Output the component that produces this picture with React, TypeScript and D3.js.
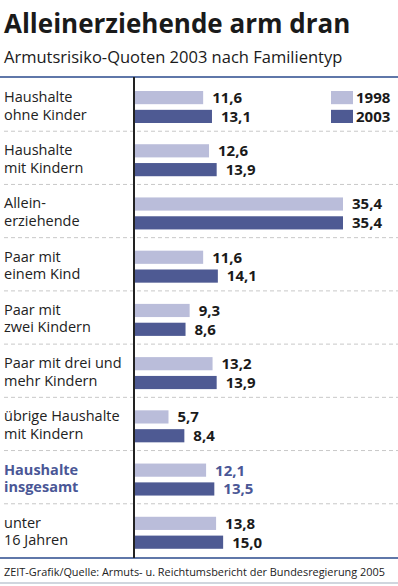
import * as d3 from "d3";

// categories (label lines) and values
const categories = [
  ["Haushalte", "ohne Kinder"],
  ["Haushalte", "mit Kindern"],
  ["Allein-", "erziehende"],
  ["Paar mit", "einem Kind"],
  ["Paar mit", "zwei Kindern"],
  ["Paar mit drei und", "mehr Kindern"],
  ["übrige Haushalte", "mit Kindern"],
  ["Haushalte", "insgesamt"],
  ["unter", "16 Jahren"],
];
const years = ["1998", "2003"];
const values1998 = [11.6, 12.6, 35.4, 11.6, 9.3, 13.2, 5.7, 12.1, 13.8];
const values2003 = [13.1, 13.9, 35.4, 14.1, 8.6, 13.9, 8.4, 13.5, 15.0];
const highlightIndex = 7;

const W = 398;
const H = 586;
const FONT = "'Open Sans', sans-serif";
const COLORS = ["#babdda", "#4e5a93"];
const BLUE = "#2a4a8c";
const HIGHLIGHT = "#4a5796";

const fmt = (v: number) => v.toFixed(1).replace(".", ",");

const App = () => {
  const rows = d3
    .scaleBand<number>()
    .domain(categories.map((_, i) => i))
    .range([78, 557]);
  const inner = d3
    .scaleBand<string>()
    .domain(years)
    .range([13, 45])
    .paddingInner(0.3);
  const x = d3.scaleLinear().domain([0, 35.4]).range([135, 343]);

  const series = [values1998, values2003];

  return (
    <svg
      width={W}
      height={H}
      style={{ position: "absolute", left: 0, top: 0, background: "#fff" }}
      fontFamily={FONT}
    >
      <text x={4} y={33} fontSize={26} fontWeight={700} fill="#1a1a1a">
        Alleinerziehende arm dran
      </text>
      <text x={4} y={63} fontSize={16.5} fill="#1a1a1a">
        Armutsrisiko-Quoten 2003 nach Familientyp
      </text>

      {/* row separators */}
      {categories.slice(1).map((_, i) => (
        <line
          key={i}
          x1={4}
          x2={W}
          y1={rows(i + 1)!}
          y2={rows(i + 1)!}
          stroke="#c8c8c8"
          strokeDasharray="4,3"
        />
      ))}

      {categories.map((lines, i) => {
        const y0 = rows(i)!;
        const hi = i === highlightIndex;
        return (
          <g key={i}>
            {lines.map((l, j) => (
              <text
                key={j}
                x={4}
                y={y0 + 24 + j * 17.5}
                fontSize={14.5}
                fontWeight={hi ? 700 : 400}
                fill={hi ? HIGHLIGHT : "#222"}
              >
                {l}
              </text>
            ))}
            {years.map((yr, s) => {
              const v = series[s][i];
              const by = y0 + inner(yr)!;
              return (
                <g key={yr}>
                  <rect
                    x={x(0)}
                    y={by}
                    width={x(v) - x(0)}
                    height={inner.bandwidth()}
                    fill={COLORS[s]}
                  />
                  <text
                    x={x(v) + 9}
                    y={by + inner.bandwidth() / 2}
                    dy="0.36em"
                    fontSize={15}
                    fontWeight={700}
                    fill={hi ? HIGHLIGHT : "#1a1a1a"}
                  >
                    {fmt(v)}
                  </text>
                </g>
              );
            })}
          </g>
        );
      })}

      {/* legend */}
      {years.map((yr, s) => (
        <g key={yr}>
          <rect
            x={331}
            y={rows(0)! + inner(yr)!}
            width={22}
            height={inner.bandwidth()}
            fill={COLORS[s]}
          />
          <text
            x={356}
            y={rows(0)! + inner(yr)! + inner.bandwidth() / 2}
            dy="0.36em"
            fontSize={15}
            fontWeight={700}
            fill="#1a1a1a"
          >
            {yr}
          </text>
        </g>
      ))}

      <line x1={0} x2={W} y1={77} y2={77} stroke={BLUE} strokeWidth={1.5} />
      <line x1={0} x2={W} y1={558} y2={558} stroke={BLUE} strokeWidth={1.5} />
      <line x1={134} x2={134} y1={77} y2={558} stroke="#222" strokeWidth={2} />

      <text x={4} y={576} fontSize={10.9} fill="#222">
        ZEIT-Grafik/Quelle: Armuts- u. Reichtumsbericht der Bundesregierung 2005
      </text>
      <line x1={0} x2={W} y1={583} y2={583} stroke="#d0d6de" strokeWidth={2} />
    </svg>
  );
};

export default App;
